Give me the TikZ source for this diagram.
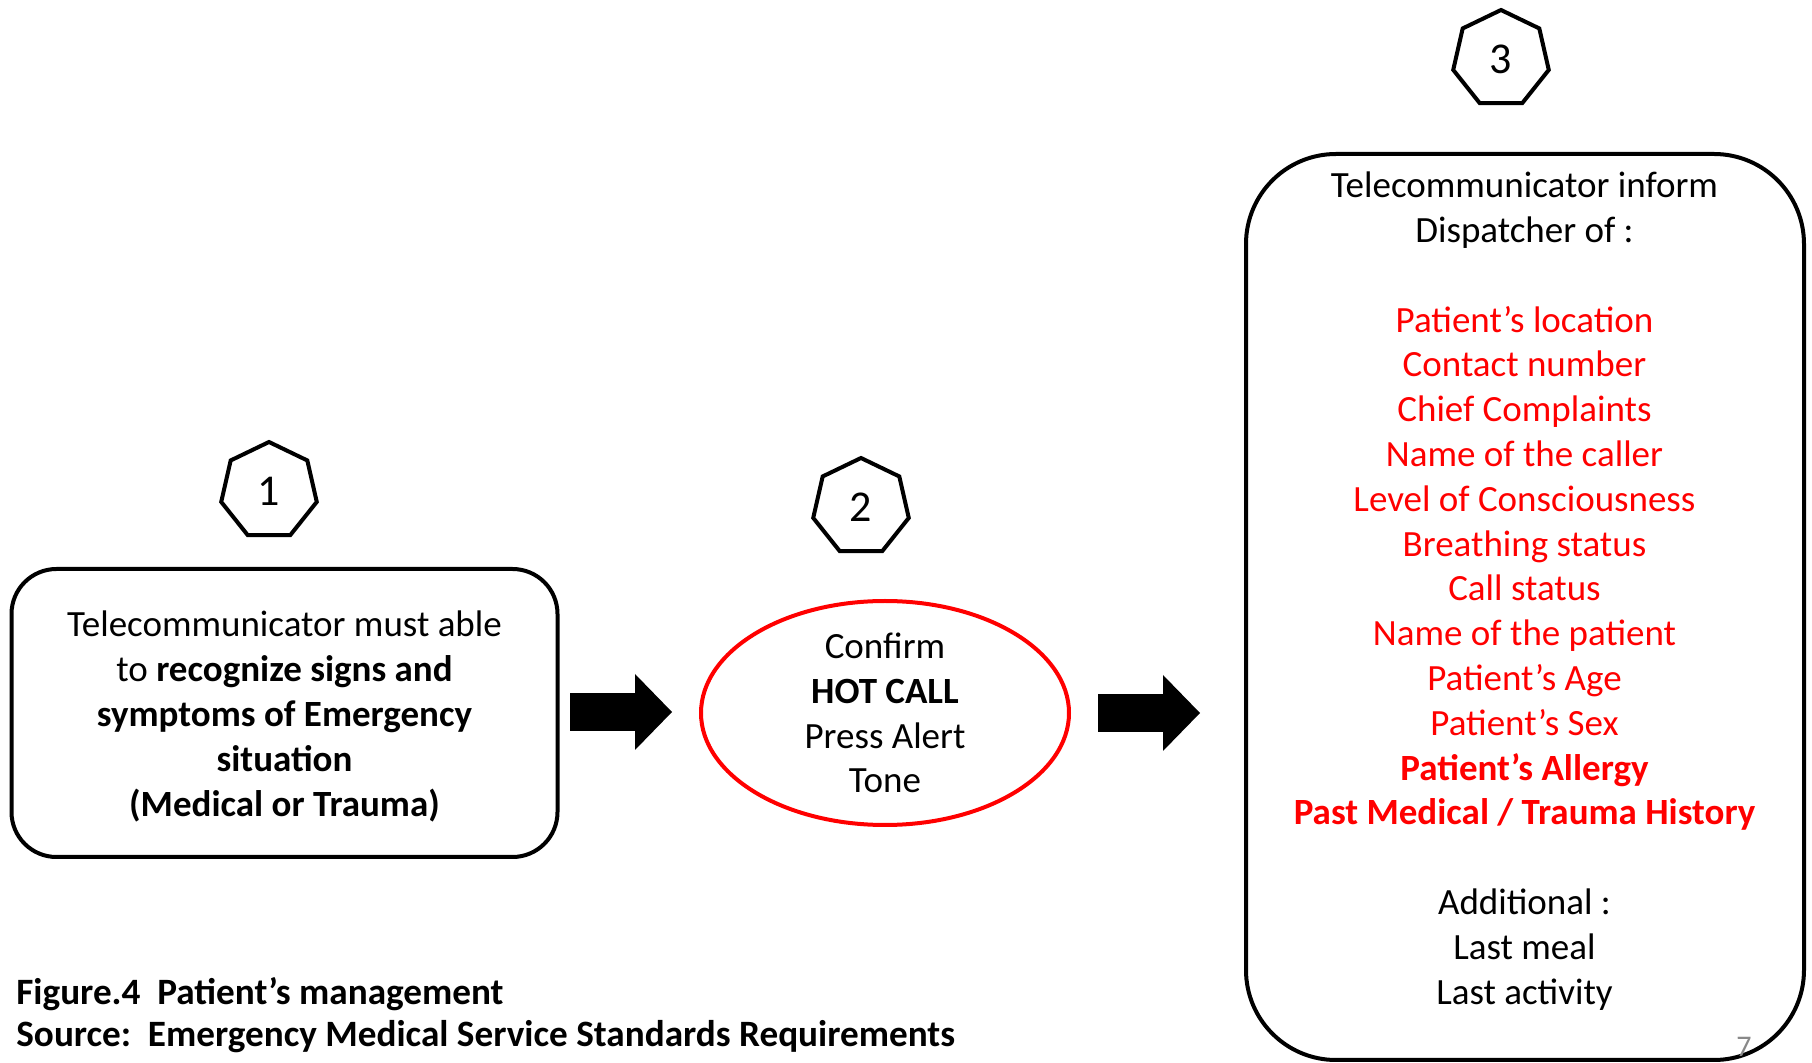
\documentclass[tikz,border=0pt]{standalone}
\usepackage{fontspec}
\setmainfont{Carlito}
\usetikzlibrary{shapes.geometric,arrows.meta}
\definecolor{alertred}{HTML}{FF0000}
\definecolor{pagegray}{HTML}{898989}
\newcommand\redline[1]{\textcolor{alertred}{#1}}
\tikzset{
  stepno/.style={draw, line width=2pt, regular polygon, regular polygon sides=7,
    minimum size=49pt, inner sep=0pt, font=\fontsize{22}{26}\selectfont},
  bodytext/.style={align=center, font=\fontsize{18.5}{22.4}\selectfont},
  stagebox/.style={draw, line width=2pt},
  blockarrow/.style={line width=19pt, -{Triangle[length=18.5pt, width=38pt, line width=0pt]}}
}
\begin{document}
\begin{tikzpicture}[x=0.5pt, y=-0.5pt]
\useasboundingbox (0,0) rectangle (1812,1063);
% step numbers
\node[stepno] (n1) at (269,491) {1};
\node[stepno] (n2) at (861,507) {2};
\node[stepno] (n3) at (1501,59) {3};
% stage 1
\node[stagebox, rounded corners=22.5pt, minimum width=273pt, minimum height=144pt] (recog) at (284.5,713) {};
\node[bodytext] (recogtext) at (284.5,716.5)
  {Telecommunicator must able\\ to \textbf{recognize signs and}\\ \textbf{symptoms of Emergency}\\
   \textbf{situation}\\ \textbf{(Medical or Trauma)}};
% stage 2
\node[stagebox, draw=alertred, ellipse, minimum width=184pt, minimum height=112pt, inner sep=0pt] (hot) at (885,713) {};
\node[bodytext] (hottext) at (hot.center) {Confirm\\ \textbf{HOT CALL}\\ Press Alert\\ Tone};
% stage 3
\node[stagebox, rounded corners=45pt, minimum width=279pt, minimum height=453pt] (inform) at (1525,607) {};
\node[bodytext] (informtext) at (1524.5,591)
  {Telecommunicator inform\\ Dispatcher of :\\[22.4pt]
   \redline{Patient’s location}\\ \redline{Contact number}\\ \redline{Chief Complaints}\\
   \redline{Name of the caller}\\ \redline{Level of Consciousness}\\ \redline{Breathing status}\\
   \redline{Call status}\\ \redline{Name of the patient}\\ \redline{Patient’s Age}\\
   \redline{Patient’s Sex}\\ \redline{\textbf{Patient’s Allergy}}\\
   \redline{\textbf{Past Medical / Trauma History}}\\[22.4pt]
   Additional :\\ Last meal\\ Last activity};
% block arrows
\coordinate (a1s) at (570,712);
\coordinate (a1e) at (672,712);
\coordinate (a2s) at (1098,713);
\coordinate (a2e) at (1200,713);
\draw[blockarrow] (a1s) -- (a1e);
\draw[blockarrow] (a2s) -- (a2e);
% caption
\node[anchor=west, align=left, inner sep=0pt, font=\fontsize{18.6}{21}\selectfont\bfseries] (caption) at (16,1015)
  {Figure.4\ \ Patient’s management\\ Source:\ \ Emergency Medical Service Standards Requirements};
\node[text=pagegray, inner sep=0pt, font=\fontsize{15}{18}\selectfont] (pageno) at (1744,1047) {7};
\end{tikzpicture}
\end{document}
